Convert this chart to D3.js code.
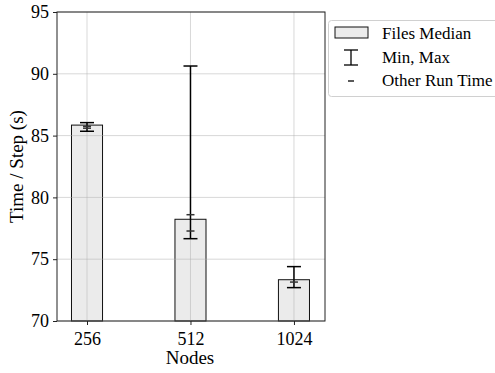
<!DOCTYPE html>
<html><head><meta charset="utf-8">
<script src="https://cdn.jsdelivr.net/npm/d3@7"></script>
<style>body{margin:0;background:#fff}svg{display:block}text{font-family:'Liberation Serif','Times New Roman',serif}</style>
</head><body>
<svg id="c" width="495" height="373"></svg>
<script>
const categories = ["256", "512", "1024"];
const medians = [85.85, 78.23, 73.34];
const mins = [85.35, 76.66, 72.70];
const maxs = [86.05, 90.63, 74.40];
const otherRuns = [[85.75, 85.6], [78.6, 77.28], [73.15]];
const yTicks = [70, 75, 80, 85, 90, 95];
const legendLabels = ["Files Median", "Min, Max", "Other Run Time"];

const svg = d3.select("#c");
const L = 57, R = 325, T = 12, B = 321;
const font = "'Liberation Serif','Times New Roman',serif";
const x = d3.scaleLinear().domain([-0.29, 2.3]).range([L, R]);
const y = d3.scaleLinear().domain([70, 95]).range([B, T]);
const bw = x(0.3) - x(0);

// bars
svg.append("g").selectAll("rect").data(medians).join("rect")
  .attr("x", (d, i) => x(i) - bw / 2).attr("width", bw)
  .attr("y", d => y(d)).attr("height", d => B - y(d))
  .attr("fill", "#ebebeb").attr("stroke", "#111").attr("stroke-width", 1);

// grid
const g = svg.append("g").attr("stroke", "#b0b0b0").attr("stroke-opacity", 0.55).attr("stroke-width", 0.9);
yTicks.forEach(t => g.append("line").attr("x1", L).attr("x2", R).attr("y1", y(t)).attr("y2", y(t)));
categories.forEach((c, i) => g.append("line").attr("x1", x(i)).attr("x2", x(i)).attr("y1", T).attr("y2", B));

// error bars
const eb = svg.append("g").attr("stroke", "#000").attr("stroke-width", 1.5);
const cap = 7;
medians.forEach((m, i) => {
  eb.append("line").attr("x1", x(i)).attr("x2", x(i)).attr("y1", y(mins[i])).attr("y2", y(maxs[i]));
  [mins[i], maxs[i]].forEach(v => eb.append("line").attr("x1", x(i) - cap).attr("x2", x(i) + cap).attr("y1", y(v)).attr("y2", y(v)));
});
// other run times
const orr = svg.append("g").attr("stroke", "#333").attr("stroke-width", 1.5);
otherRuns.forEach((arr, i) => arr.forEach(v =>
  orr.append("line").attr("x1", x(i) - 4).attr("x2", x(i) + 4).attr("y1", y(v)).attr("y2", y(v))));

// spines
svg.append("rect").attr("x", L).attr("y", T).attr("width", R - L).attr("height", B - T)
  .attr("fill", "none").attr("stroke", "#222").attr("stroke-width", 1);

// axes
const yAxis = d3.axisLeft(y).tickValues(yTicks).tickSize(4).tickPadding(4).tickFormat(d3.format("d"));
const ya = svg.append("g").attr("transform", `translate(${L},0)`).call(yAxis);
const xAxis = d3.axisBottom(x).tickValues([0, 1, 2]).tickSize(4).tickPadding(7).tickFormat(i => categories[i]);
const xa = svg.append("g").attr("transform", `translate(0,${B})`).call(xAxis);
[ya, xa].forEach(a => {
  a.attr("font-family", null).attr("font-size", null);
  a.select(".domain").remove();
  a.selectAll("line").attr("stroke", "#222");
  a.selectAll("text").style("font-family", font).style("font-size", "18px").attr("fill", "#000");
});

svg.append("text").attr("x", (L + R) / 2 - 1).attr("y", 364).attr("text-anchor", "middle")
  .style("font-size", "19px").text("Nodes");
svg.append("text").attr("transform", `translate(23,${(T + B) / 2}) rotate(-90)`).attr("text-anchor", "middle")
  .style("font-size", "19px").text("Time / Step (s)");

// legend
const lg = svg.append("g");
lg.append("rect").attr("x", 328.5).attr("y", 20.5).attr("width", 180).attr("height", 76).attr("rx", 3)
  .attr("fill", "#fff").attr("stroke", "#d0d0d0");
lg.append("rect").attr("x", 335).attr("y", 27).attr("width", 33).attr("height", 11)
  .attr("fill", "#ebebeb").attr("stroke", "#111");
const lx = 351;
lg.append("line").attr("x1", lx).attr("x2", lx).attr("y1", 50).attr("y2", 65).attr("stroke", "#000").attr("stroke-width", 1.3);
lg.append("line").attr("x1", lx - 7).attr("x2", lx + 7).attr("y1", 50).attr("y2", 50).attr("stroke", "#000").attr("stroke-width", 1.3);
lg.append("line").attr("x1", lx - 7).attr("x2", lx + 7).attr("y1", 65).attr("y2", 65).attr("stroke", "#000").attr("stroke-width", 1.3);
lg.append("line").attr("x1", lx - 3).attr("x2", lx + 3).attr("y1", 81).attr("y2", 81).attr("stroke", "#000").attr("stroke-width", 1.3);
legendLabels.forEach((t, i) => lg.append("text").attr("x", 382).attr("y", 39 + i * 23.5)
  .style("font-size", "17px").text(t));
</script>
</body></html>
